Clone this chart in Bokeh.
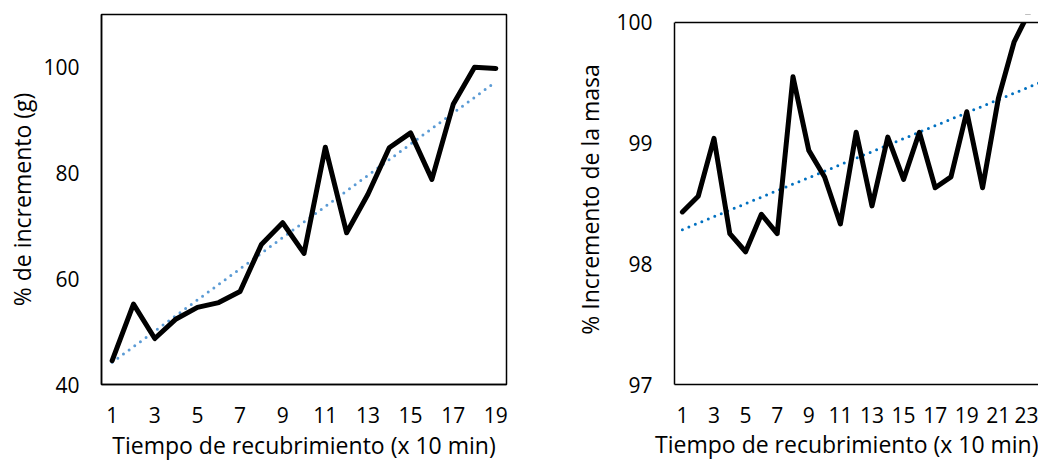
import numpy as np
from bokeh.plotting import figure
from bokeh.layouts import row
from bokeh.models import Range1d, FixedTicker, Span, BoxAnnotation, Title
from bokeh.embed import file_html
from bokeh.resources import INLINE

# ---------------- data ----------------
left_time = list(range(1, 20))
left_increment = [44.5, 55.2, 48.7, 52.4, 54.6, 55.5, 57.6, 66.5, 70.6, 64.8,
                  84.9, 68.7, 76.0, 84.8, 87.6, 78.8, 93.0, 100.0, 99.8]
left_xticks = list(range(1, 20, 2))
left_yticks = [40, 60, 80, 100]

right_time = list(range(1, 25))
right_increment = [98.43, 98.56, 99.04, 98.25, 98.10, 98.41, 98.25, 99.55,
                   98.94, 98.72, 98.33, 99.09, 98.48, 99.05, 98.70, 99.09,
                   98.63, 98.72, 99.26, 98.63, 99.37, 99.84, 100.10, 100.12]
right_xticks = list(range(1, 24, 2))
right_yticks = [97, 98, 99, 100]

x_title = "Tiempo de recubrimiento (x 10 min)"
left_ytitle = "% de incremento (g)"
right_ytitle = "% Incremento de la masa"

FONT = "Open Sans"
FS_TICK = "21px"
FS_TITLE = "23px"


def style(p, xticks, yticks):
    p.grid.visible = False
    for ax in (p.xaxis[0], p.yaxis[0]):
        ax.major_tick_line_color = None
        ax.minor_tick_line_color = None
        ax.major_tick_out = 0
        ax.major_tick_in = 0
        ax.minor_tick_out = 0
        ax.major_label_text_font = FONT
        ax.major_label_text_font_size = FS_TICK
        ax.major_label_text_color = "#000000"
        ax.axis_label_text_font = FONT
        ax.axis_label_text_font_size = FS_TITLE
        ax.axis_label_text_font_style = "normal"
        ax.axis_label_text_color = "#000000"
        ax.axis_line_color = "#000000"
        ax.axis_line_width = 1.5
    p.xaxis[0].ticker = FixedTicker(ticks=xticks)
    p.yaxis[0].ticker = FixedTicker(ticks=yticks)
    p.xaxis[0].major_label_standoff = 22
    p.yaxis[0].major_label_standoff = 22
    p.background_fill_color = "white"
    p.border_fill_color = "white"


def trend(xs, ys):
    k, b = np.polyfit(xs, ys, 1)
    xe = [xs[0], xs[-1]]
    return xe, [k * v + b for v in xe]


# ---------------- left chart ----------------
p1 = figure(width=540, height=464, x_range=Range1d(0.5, 19.5), y_range=Range1d(40, 110),
            output_backend="svg", toolbar_location=None,
            min_border_left=101, min_border_right=34, min_border_top=14, min_border_bottom=80)
style(p1, left_xticks, left_yticks)
p1.outline_line_color = "#000000"
p1.outline_line_width = 1.5
p1.yaxis[0].axis_label = left_ytitle
p1.yaxis[0].axis_label_standoff = 2
p1.xaxis[0].axis_label = x_title
p1.xaxis[0].axis_label_standoff = 3

lx, ly = trend(left_time, left_increment)
p1.line(lx, ly, line_color="#5B9BD5", line_width=3, line_dash="0 7", line_cap="round")
p1.line(left_time, left_increment, line_color="#000000", line_width=5,
        line_join="round", line_cap="round")

# ---------------- right chart ----------------
# frame shares top/bottom with the left chart; the plot area itself ends at 100
p2 = figure(width=498, height=464, x_range=Range1d(0.5, 23.54), y_range=Range1d(97, 100.066),
            output_backend="svg", toolbar_location=None,
            min_border_left=134, min_border_right=0, min_border_top=14, min_border_bottom=80)
style(p2, right_xticks, right_yticks)
p2.outline_line_color = None
p2.yaxis[0].axis_label = right_ytitle
p2.yaxis[0].axis_label_standoff = 7
p2.yaxis[0].bounds = (right_yticks[0], right_yticks[-1])
p2.add_layout(Title(text=x_title, align="right", text_font=FONT, text_font_size=FS_TITLE,
                    text_font_style="normal", text_color="#000000", standoff=0), "below")

rx, ry = trend(right_time, right_increment)
p2.line(rx, ry, line_color="#0070C0", line_width=3, line_dash="0 7", line_cap="round")
p2.line(right_time, right_increment, line_color="#000000", line_width=5,
        line_join="round", line_cap="round")
try:
    mask = BoxAnnotation(bottom=right_yticks[-1], top=0, top_units="canvas",
                         fill_color="white", fill_alpha=1.0, line_alpha=0, level="overlay")
except Exception:
    mask = BoxAnnotation(bottom=right_yticks[-1], fill_color="white", fill_alpha=1.0,
                         line_alpha=0, level="overlay")
p2.add_layout(mask)
p2.add_layout(Span(location=right_yticks[-1], dimension="width",
                   line_color="#000000", line_width=1.5, level="overlay"))

layout = row(p1, p2)
open("out.html", "w").write(file_html(layout, INLINE))
